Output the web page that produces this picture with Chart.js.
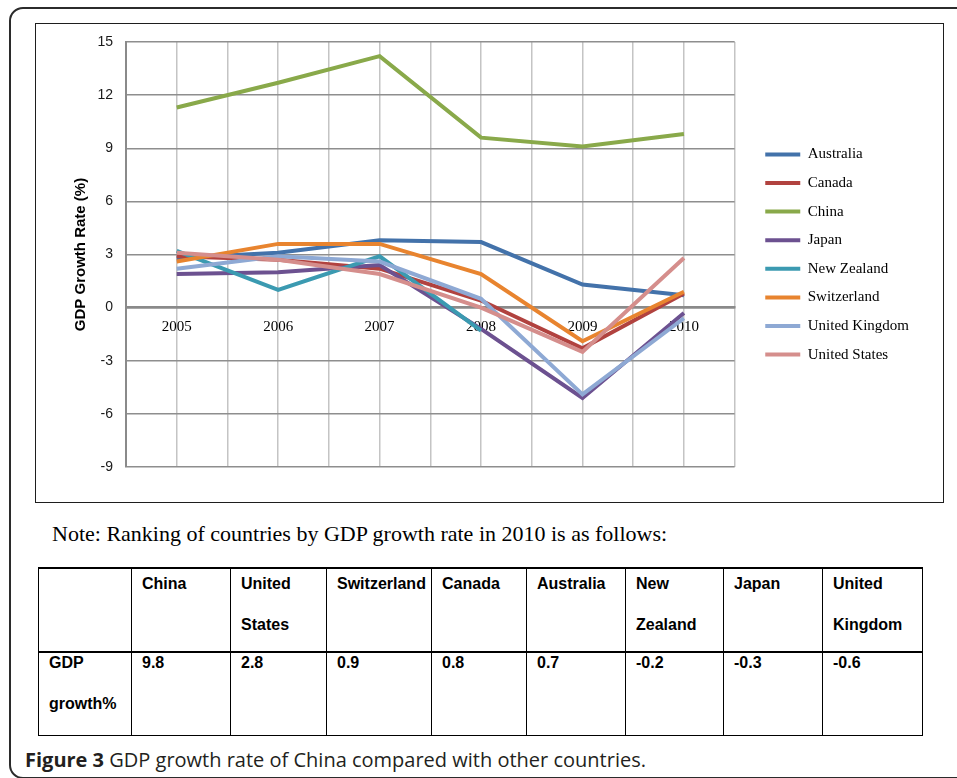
<!DOCTYPE html>
<html>
<head>
<meta charset="utf-8">
<script src="https://cdn.jsdelivr.net/npm/chart.js@4.4.1/dist/chart.umd.min.js"></script>
<style>
body { margin: 0; background: #fff; width: 957px; height: 778px; overflow: hidden; position: relative; }
#frame { position: absolute; left: 9px; top: 7px; width: 990px; height: 768px; border: 2px solid #2b2b2b; border-radius: 14px; }
#box { position: absolute; left: 35px; top: 23px; width: 907px; height: 478px; border: 1.5px solid #1e1e1e; }
#wrap { position: absolute; left: 37px; top: 25px; width: 906px; height: 477px; }
#note { position: absolute; left: 52px; top: 521px; font: 22px "Liberation Serif", serif; color: #000; white-space: nowrap; }
#rank { position: absolute; left: 38px; top: 567px; width: 884px; border-collapse: collapse; table-layout: fixed;
        font: bold 16px "Liberation Sans", Arial, sans-serif; color: #000; }
#rank td { border: 1px solid #000; vertical-align: top; padding: 0 0 0 10px; line-height: 41px; }
#rank tr.head td { border-top: 2.5px solid #000; border-bottom: 2.5px solid #000; height: 82px; }
#rank tr.head td div { position: relative; top: -6px; }
#rank tr.vals td { height: 82px; }
#rank tr.vals td div { position: relative; top: -11px; }
#caption { position: absolute; left: 25px; top: 746px; font: 20px "Open Sans", sans-serif; color: #231f20; white-space: nowrap; }
#caption b { font-weight: bold; }
</style>
</head>
<body>
<div id="frame"></div>
<div id="box"></div>
<div id="wrap"><canvas id="gdp"></canvas></div>
<div id="note">Note: Ranking of countries by GDP growth rate in 2010 is as follows:</div>
<table id="rank">
  <colgroup id="cols"></colgroup>
  <tr class="head" id="js--head"></tr>
  <tr class="vals" id="js--vals"></tr>
</table>
<div id="caption"><b>Figure 3</b> GDP growth rate of China compared with other countries.</div>

<script>
const years = [2005, 2006, 2007, 2008, 2009, 2010];
const countries = ['Australia', 'Canada', 'China', 'Japan', 'New Zealand', 'Switzerland', 'United Kingdom', 'United States'];
const australia = [2.8, 3.1, 3.8, 3.7, 1.3, 0.7];
const canada = [2.9, 2.7, 2.2, 0.4, -2.3, 0.8];
const china = [11.3, 12.7, 14.2, 9.6, 9.1, 9.8];
const japan = [1.9, 2.0, 2.4, -1.2, -5.1, -0.3];
const newZealand = [3.2, 1.0, 2.9, -1.3, null, null];
const switzerland = [2.6, 3.6, 3.6, 1.9, -1.9, 0.9];
const unitedKingdom = [2.2, 2.9, 2.6, 0.5, -4.9, -0.6];
const unitedStates = [3.1, 2.7, 1.9, 0.0, -2.5, 2.8];
const yTicks = [-9, -6, -3, 0, 3, 6, 9, 12, 15];

// ranking table for 2010
const rankNames = ['China', 'United States', 'Switzerland', 'Canada', 'Australia', 'New Zealand', 'Japan', 'United Kingdom'];
const rankValues = [9.8, 2.8, 0.9, 0.8, 0.7, -0.2, -0.3, -0.6];

const colors = ['#4372aa', '#b1423f', '#89a94a', '#6c5190', '#3b9ab1', '#e8842f', '#8ea9d4', '#d58e8c'];
const series = [australia, canada, china, japan, newZealand, switzerland, unitedKingdom, unitedStates];

/* table */
const colWidths = [93, 99, 96, 105, 95, 99, 98, 99, 100];
const cols = document.getElementById('cols');
colWidths.forEach(function (w) {
    const c = document.createElement('col');
    c.style.width = w + 'px';
    cols.appendChild(c);
});
const headRow = document.getElementById('js--head');
const valRow = document.getElementById('js--vals');
headRow.innerHTML = '<td></td>' + rankNames.map(function (n) {
    return '<td><div>' + n.split(' ').join('<br>') + '</div></td>';
}).join('');
valRow.innerHTML = '<td><div>GDP<br>growth%</div></td>' + rankValues.map(function (v) {
    return '<td><div>' + v.toFixed(1) + '</div></td>';
}).join('');

/* chart */
const datasets = series.map(function (vals, i) {
    return {
        label: countries[i],
        data: years.map(function (yr, j) { return { x: yr, y: vals[j] }; }),
        borderColor: colors[i],
        backgroundColor: colors[i],
        borderWidth: 4,
        pointRadius: 0,
        pointHoverRadius: 0,
        tension: 0,
        spanGaps: false,
        order: series.length - i
    };
});

new Chart(document.getElementById('gdp'), {
    type: 'line',
    data: { datasets: datasets },
    options: {
        responsive: true,
        maintainAspectRatio: false,
        animation: false,
        layout: { padding: { left: 35, top: 17, bottom: 35, right: 24 } },
        plugins: {
            tooltip: { enabled: false },
            legend: {
                position: 'right',
                maxWidth: 260,
                labels: {
                    usePointStyle: true,
                    pointStyle: 'line',
                    pointStyleWidth: 35,
                    padding: 13.6,
                    color: '#000',
                    font: { family: '"Liberation Serif", serif', size: 15 },
                    sort: function (a, b) { return a.datasetIndex - b.datasetIndex; }
                }
            }
        },
        scales: {
            x: {
                type: 'linear',
                position: { y: 0 },
                min: years[0] - 0.5,
                max: years[years.length - 1] + 0.5,
                afterBuildTicks: function (s) {
                    const t = [];
                    for (let v = s.min; v <= s.max + 0.001; v += 0.5) t.push({ value: v });
                    s.ticks = t;
                },
                afterFit: function (s) { s.height = 0; },
                grid: { color: '#c4c4c4', lineWidth: 1.5, drawTicks: false },
                border: { color: '#8a8a8a', width: 2.5 },
                ticks: {
                    autoSkip: false,
                    maxRotation: 0,
                    padding: 10,
                    color: '#000',
                    font: { family: '"Liberation Serif", serif', size: 15 },
                    callback: function (v) { return Number.isInteger(v) ? String(v) : ''; }
                }
            },
            y: {
                min: yTicks[0],
                max: yTicks[yTicks.length - 1],
                afterBuildTicks: function (s) {
                    s.ticks = yTicks.map(function (v) { return { value: v }; });
                },
                afterFit: function (s) {
                    s.width = 54;
                    s.paddingTop = 0;
                    s.paddingBottom = 0;
                },
                grid: { color: '#8e8e8e', lineWidth: 1.5, drawTicks: false },
                border: { color: '#8a8a8a', width: 2 },
                ticks: {
                    padding: 13,
                    color: '#1a1a1a',
                    font: { family: '"Liberation Sans", Arial, sans-serif', size: 14 }
                },
                title: {
                    display: true,
                    text: 'GDP Growth Rate (%)',
                    color: '#000',
                    padding: 0,
                    font: { family: '"Liberation Sans", Arial, sans-serif', size: 15, weight: 'bold' }
                }
            },
            // empty axis, only keeps a gap between the plot and the legend
            gap: {
                type: 'linear',
                position: 'right',
                display: true,
                grid: { display: false },
                border: { display: false },
                ticks: { display: false },
                afterFit: function (s) {
                    s.width = 17;
                    s.paddingTop = 0;
                    s.paddingBottom = 0;
                }
            }
        }
    }
});
</script>
</body>
</html>
